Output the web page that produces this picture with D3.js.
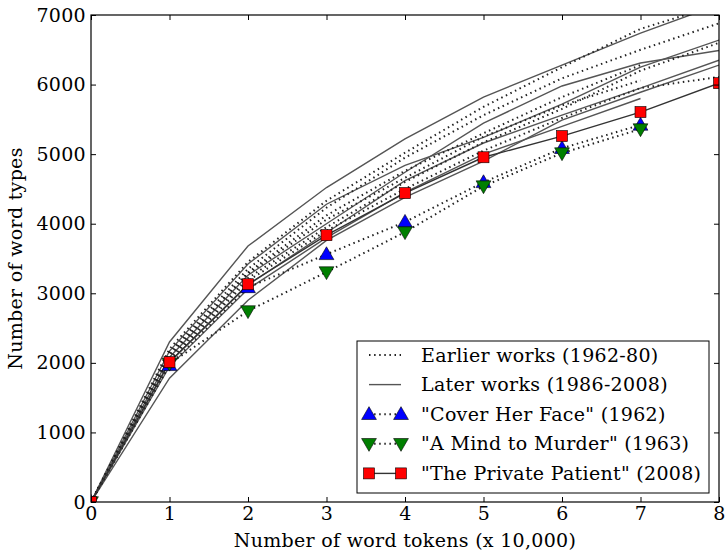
<!DOCTYPE html>
<html>
<head>
<meta charset="utf-8">
<script src="https://cdn.jsdelivr.net/npm/d3@7"></script>
<style>
body { margin: 0; background: #fff; }
</style>
</head>
<body>
<svg id="chart"></svg>
<script>
// x = tokens (x 10,000), y = word types
var tokens = [0, 1, 2, 3, 4, 5, 6, 7, 8]

// earlier works (1962-80), dotted
var earlierWorks = [
	[0, 2200, 3450, 4330, 5020, 5680, 6250, 6800, 7150],
	[0, 2150, 3350, 4230, 4950, 5560, 6090, 6500, 6880],
	[0, 2100, 3280, 4060, 4660, 5250, 5700, 6060],
	[0, 2060, 3220, 3950, 4600, 5170, 5650, 6200, 6600],
	[0, 2030, 3180, 3900, 4500, 5050, 5520, 5950, 6110],
	[0, 2120, 3300, 4120, 4760, 5300, 5820, 6280]
]
// later works (1986-2008), solid
var laterWorks = [
	[0, 2300, 3680, 4520, 5220, 5820, 6280, 6740, 7150],
	[0, 2170, 3420, 4280, 4840, 5240, 5720, 6250, 6640],
	[0, 2080, 3260, 4000, 4740, 5445, 5980, 6310, 6490],
	[0, 2010, 3120, 3870, 4620, 5160, 5560, 5950, 6350],
	[0, 1780, 2900, 3760, 4380, 4900, 5490, 5890, 6280],
	[0, 1950, 3060, 3800, 4450, 5000, 5400, 5800]
]
var coverHerFace = [0, 1965, 3085, 3560, 4025, 4595, 5085, 5420]
var mindToMurder = [0, 1990, 2745, 3305, 3880, 4540, 5015, 5360]
var privatePatient = [0, 2010, 3130, 3835, 4440, 4955, 5260, 5605, 6020]

var legendLabels = ['Earlier works (1962-80)', 'Later works (1986-2008)',
	'"Cover Her Face" (1962)', '"A Mind to Murder" (1963)', '"The Private Patient" (2008)']

var font = '"DejaVu Serif", "Liberation Serif", serif'
var fontSize = '19px'
var spacing = '0.3px'

var margin = {top: 15, right: 6, bottom: 48, left: 91},
	width = 725 - margin.left - margin.right,
	height = 550 - margin.top - margin.bottom;

var svg = d3.select('#chart')
	.attr('width', 725)
	.attr('height', 550)
	.append('g')
	.attr('transform', 'translate(' + margin.left + ',' + margin.top + ')')

var x = d3.scaleLinear().domain([0, 8]).range([0, width])
var y = d3.scaleLinear().domain([0, 7000]).range([height, 0])

svg.append('defs').append('clipPath')
	.attr('id', 'clip')
	.append('rect')
	.attr('width', width)
	.attr('height', height)

var plot = svg.append('g').attr('clip-path', 'url(#clip)')

var line = d3.line()
	.x((d, i) => x(tokens[i]))
	.y(d => y(d))

var dotted = '1.5,3.6'
var grey = '#555'

function drawLine(data, dash, w, col) {
	plot.append('path')
		.datum(data)
		.attr('fill', 'none')
		.attr('stroke', col)
		.attr('stroke-width', w)
		.attr('stroke-dasharray', dash)
		.attr('d', line)
}

laterWorks.forEach(d => drawLine(d, null, 1.4, grey))
earlierWorks.forEach(d => drawLine(d, dotted, 2, '#222'))
drawLine(coverHerFace, dotted, 2, '#222')
drawLine(mindToMurder, dotted, 2, '#222')
drawLine(privatePatient, null, 1.4, '#333')

var triUp = d3.symbol().type(d3.symbolTriangle).size(95)

function triangle(g, cx, cy, up, fill) {
	g.append('path')
		.attr('d', triUp())
		.attr('transform', 'translate(' + cx + ',' + (cy + (up ? 1 : -1)) + ')' + (up ? '' : ' rotate(180)'))
		.attr('fill', fill)
		.attr('stroke', '#000')
		.attr('stroke-width', 0.6)
}
function square(g, cx, cy) {
	g.append('rect')
		.attr('x', cx - 5.5).attr('y', cy - 5.5)
		.attr('width', 11).attr('height', 11)
		.attr('fill', '#ff0000')
		.attr('stroke', '#000')
		.attr('stroke-width', 0.6)
}

coverHerFace.forEach((d, i) => triangle(plot, x(tokens[i]), y(d), true, '#0000ff'))
mindToMurder.forEach((d, i) => triangle(plot, x(tokens[i]), y(d), false, '#007f00'))
privatePatient.forEach((d, i) => square(plot, x(tokens[i]), y(d)))

// frame + inward ticks on all sides
svg.append('rect')
	.attr('width', width).attr('height', height)
	.attr('fill', 'none').attr('stroke', '#000').attr('stroke-width', 1.2)

svg.append('g')
	.attr('transform', 'translate(0,' + height + ')')
	.call(d3.axisBottom(x).ticks(8).tickSize(-5).tickPadding(4).tickFormat(d3.format('d')))
svg.append('g')
	.call(d3.axisLeft(y).ticks(7).tickSize(-5).tickPadding(5).tickFormat(d3.format('d')))
svg.append('g')
	.call(d3.axisTop(x).ticks(8).tickSize(-5).tickFormat(''))
svg.append('g')
	.attr('transform', 'translate(' + width + ',0)')
	.call(d3.axisRight(y).ticks(7).tickSize(-5).tickFormat(''))

svg.selectAll('.domain').remove()
svg.selectAll('.tick line').attr('stroke', '#000')
svg.selectAll('.tick text')
	.attr('fill', '#000')
	.style('font-size', fontSize)
	.style('letter-spacing', spacing)
	.style('font-family', font)

svg.append('text')
	.attr('x', width / 2)
	.attr('y', height + 45)
	.attr('text-anchor', 'middle')
	.style('font-size', fontSize)
	.style('letter-spacing', spacing)
	.style('font-family', font)
	.text('Number of word tokens (x 10,000)')

svg.append('text')
	.attr('transform', 'translate(' + (-69) + ',' + (height / 2) + ') rotate(-90)')
	.attr('text-anchor', 'middle')
	.style('font-size', fontSize)
	.style('letter-spacing', spacing)
	.style('font-family', font)
	.text('Number of word types')

// legend
var leg = svg.append('g').attr('transform', 'translate(' + (357 - margin.left) + ',' + (341 - margin.top) + ')')
leg.append('rect')
	.attr('width', 352).attr('height', 152)
	.attr('fill', '#fff').attr('stroke', '#000').attr('stroke-width', 1)

var rowY = i => 14 + i * 29.6
var hx0 = 12, hx1 = 44

legendLabels.forEach((t, i) => {
	leg.append('text')
		.attr('x', 64)
		.attr('y', rowY(i))
		.attr('dy', '0.35em')
		.style('font-size', fontSize)
		.style('letter-spacing', spacing)
		.style('font-family', font)
		.text(t)
})
// handles
leg.append('line').attr('x1', hx0).attr('x2', hx1).attr('y1', rowY(0)).attr('y2', rowY(0))
	.attr('stroke', '#222').attr('stroke-width', 2).attr('stroke-dasharray', dotted)
leg.append('line').attr('x1', hx0).attr('x2', hx1).attr('y1', rowY(1)).attr('y2', rowY(1))
	.attr('stroke', grey).attr('stroke-width', 1.4)
leg.append('line').attr('x1', hx0).attr('x2', hx1).attr('y1', rowY(2)).attr('y2', rowY(2))
	.attr('stroke', '#222').attr('stroke-width', 2).attr('stroke-dasharray', dotted)
leg.append('line').attr('x1', hx0).attr('x2', hx1).attr('y1', rowY(3)).attr('y2', rowY(3))
	.attr('stroke', '#222').attr('stroke-width', 2).attr('stroke-dasharray', dotted)
leg.append('line').attr('x1', hx0).attr('x2', hx1).attr('y1', rowY(4)).attr('y2', rowY(4))
	.attr('stroke', '#333').attr('stroke-width', 1.4)
;[hx0, hx1].forEach(hx => {
	triangle(leg, hx, rowY(2), true, '#0000ff')
	triangle(leg, hx, rowY(3), false, '#007f00')
	square(leg, hx, rowY(4))
})
</script>
</body>
</html>
